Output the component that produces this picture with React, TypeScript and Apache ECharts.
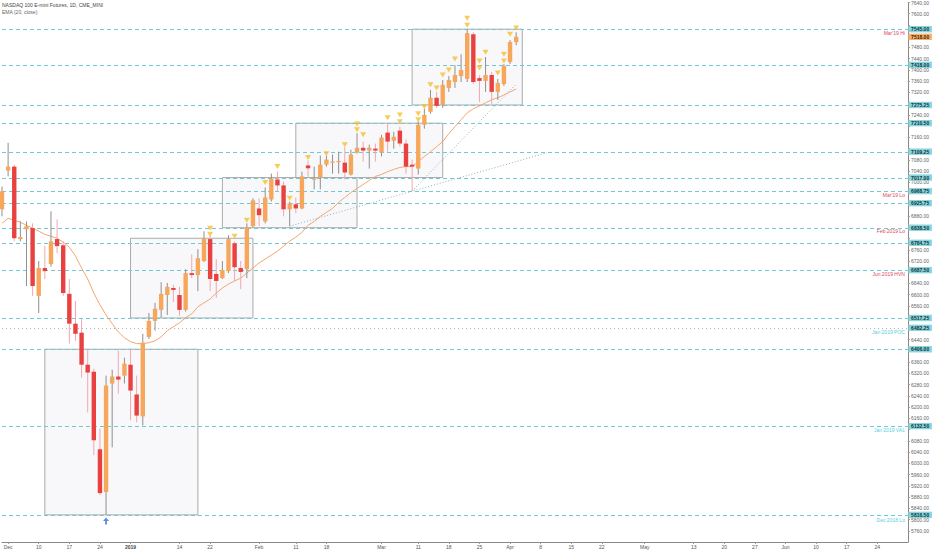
import React, { useEffect, useRef } from "react";
import * as echarts from "echarts";

// ---------- calendar ----------
const firstDay = "2018-11-30";
const lastDay = "2019-07-01";
const holidays = ["2018-12-25", "2019-01-01", "2019-01-21"];

function buildDays(): string[] {
  const out: string[] = [];
  const d = new Date(firstDay + "T00:00:00Z");
  const end = new Date(lastDay + "T00:00:00Z");
  while (d <= end) {
    const wd = d.getUTCDay();
    const s = d.toISOString().slice(0, 10);
    if (wd !== 0 && wd !== 6 && !holidays.includes(s)) out.push(s);
    d.setUTCDate(d.getUTCDate() + 1);
  }
  return out;
}
const categories = buildDays();

const tickLabels: [string, string][] = [
  ["2018-12-03", "Dec"], ["2018-12-10", "10"], ["2018-12-17", "17"], ["2018-12-24", "24"],
  ["2019-01-02", "2019"], ["2019-01-14", "14"], ["2019-01-22", "22"], ["2019-02-01", "Feb"],
  ["2019-02-11", "11"], ["2019-02-18", "18"], ["2019-03-01", "Mar"], ["2019-03-11", "11"],
  ["2019-03-18", "18"], ["2019-03-25", "25"], ["2019-04-01", "Apr"], ["2019-04-08", "8"],
  ["2019-04-15", "15"], ["2019-04-22", "22"], ["2019-05-01", "May"], ["2019-05-13", "13"],
  ["2019-05-20", "20"], ["2019-05-27", "27"], ["2019-06-03", "Jun"], ["2019-06-10", "10"],
  ["2019-06-17", "17"], ["2019-06-24", "24"],
];

// ---------- price data: [open, close, low, high] ----------
const candles: number[][] = [
  [6904, 6968, 6879, 6985], [7042, 7056, 7021, 7141], [7056, 6801, 6790, 7063], [6798, 6805, 6790, 6861],
  [6833, 6844, 6631, 6861], [6837, 6631, 6596, 6854], [6596, 6695, 6535, 6720], [6695, 6684, 6656, 6773],
  [6709, 6790, 6700, 6897], [6798, 6773, 6748, 6868], [6776, 6606, 6596, 6790], [6603, 6497, 6426, 6656],
  [6497, 6461, 6436, 6578], [6465, 6351, 6305, 6514], [6351, 6323, 6181, 6408], [6326, 6082, 6029, 6337],
  [6050, 5894, 5887, 6124], [5898, 6277, 5816.5, 6312], [6284, 6309, 6057, 6333], [6309, 6298, 6248, 6401],
  [6312, 6355, 6284, 6376], [6351, 6259, 6153, 6408], [6245, 6170, 6146, 6312], [6167, 6429, 6135, 6461],
  [6450, 6507, 6443, 6535], [6507, 6550, 6472, 6571], [6546, 6603, 6518, 6645], [6599, 6628, 6528, 6642],
  [6624, 6617, 6574, 6635], [6599, 6546, 6525, 6628], [6546, 6677, 6540, 6691], [6677, 6670, 6659, 6744],
  [6670, 6730, 6613, 6762], [6720, 6801, 6716, 6826], [6798, 6656, 6613, 6812], [6674, 6649, 6589, 6727],
  [6659, 6688, 6656, 6720], [6684, 6798, 6677, 6812], [6783, 6698, 6649, 6790], [6695, 6681, 6620, 6720],
  [6691, 6840, 6659, 6854], [6844, 6936, 6840, 6943], [6907, 6883, 6844, 6943], [6861, 6946, 6854, 6982],
  [6939, 7014, 6932, 7031], [7010, 6989, 6968, 7038], [6989, 6904, 6879, 7003], [6904, 6925, 6844, 6932],
  [6922, 6907, 6890, 6946], [6907, 7021, 6904, 7038], [7060, 7050, 7020, 7078], [7010, 7014, 6975, 7056],
  [7017, 7063, 6975, 7095], [7063, 7081, 7056, 7095], [7070, 7074, 7031, 7099], [7072, 7076, 7031, 7109],
  [7070, 7035, 7010, 7125], [7028, 7099, 7024, 7116], [7106, 7123, 7102, 7175], [7123, 7113, 7074, 7145],
  [7113, 7123, 7049, 7134], [7120, 7113, 7074, 7138], [7106, 7159, 7092, 7169], [7177, 7145, 7109, 7209],
  [7148, 7162, 7120, 7180], [7184, 7138, 7127, 7198], [7138, 7056, 7031, 7152], [7063, 7056, 6968.75, 7081],
  [7049, 7205, 7028, 7216], [7205, 7240, 7191, 7262], [7251, 7301, 7244, 7329], [7301, 7272, 7265, 7322],
  [7276, 7347, 7265, 7364], [7336, 7364, 7322, 7378], [7357, 7382, 7336, 7417], [7378, 7400, 7357, 7456],
  [7368, 7531, 7357, 7545], [7527, 7357, 7350, 7534], [7371, 7361, 7286, 7381], [7361, 7382, 7322, 7446],
  [7382, 7322, 7279, 7393], [7322, 7354, 7293, 7368], [7350, 7414, 7343, 7421], [7428, 7499, 7421, 7506],
  [7499, 7518, 7488, 7534],
];

const emaValues = [
  6854, 6872, 6865, 6858, 6847, 6837, 6826, 6815, 6808, 6801, 6787, 6769, 6738, 6695, 6656, 6606,
  6564, 6528, 6497, 6468, 6447, 6433, 6426, 6426, 6429, 6436, 6450, 6472, 6486, 6500, 6518, 6532,
  6557, 6571, 6585, 6606, 6624, 6638, 6649, 6659, 6677, 6695, 6713, 6727, 6741, 6755, 6773, 6791,
  6805, 6822, 6847, 6861, 6879, 6893, 6907, 6929, 6946, 6964, 6978, 6992, 7007, 7021, 7028, 7038,
  7046, 7053, 7056, 7056, 7074, 7092, 7109, 7127, 7145, 7173, 7198, 7223, 7247, 7262, 7272, 7283,
  7294, 7301, 7311, 7322, 7332,
];

// yellow markers above bars: [bar index, price]
const markerPoints: number[][] = [
  [34, 6837], [34, 6815], [38, 6808], [40, 6865], [43, 6999], [45, 7056], [47, 6943], [50, 7088],
  [53, 7102], [56, 7134], [58, 7208], [58, 7187], [59, 7169], [63, 7230], [65, 7240], [65, 7216],
  [68, 7244], [68, 7223], [69, 7269], [70, 7347], [71, 7336], [72, 7382], [73, 7400], [74, 7439],
  [76, 7584], [76, 7559], [78, 7432], [78, 7407], [79, 7463], [81, 7389], [82, 7456], [82, 7432],
  [83, 7527], [84, 7549],
];
const arrowPoint: number[][] = [[17, 5795]];

// rectangles: start bar, end bar, top price, bottom price
const boxStart = [7, 21, 36, 48, 67];
const boxEnd = [32, 41, 58, 72, 85];
const boxTop = [6406, 6801, 7017, 7210.5, 7545];
const boxBottom = [5816.5, 6517.25, 6838.5, 7017, 7275.25];

// dotted trend lines
const trendA: number[][] = [[47, 6844], [89, 7105]];
const trendB: number[][] = [[67, 6968.75], [84, 7350]];

// horizontal levels
const levelValues = [7545, 7418, 7275.25, 7210.5, 7109.25, 7017, 6968.75, 6925.75, 6838.5, 6784.75, 6687.5, 6517.25, 6482.25, 6406, 6132.5, 5816.5];
const levelDotted = [6482.25];
const lastPrice = 7518;
const noteValues = [7545, 6968.75, 6838.5, 6687.5, 6482.25, 6132.5, 5816.5];
const noteTexts = ["Mar'19 Hi", "Mar'19 Lo", "Feb 2019 Lo", "Jun 2019 HVN", "Jan 2019 POC", "Jan 2019 VAL", "Dec 2018 Lo"];
const noteRed = [true, true, true, true, false, false, false];

const FONT = "Liberation Sans, Arial, sans-serif";
const TEAL = "#6fcad5";
const UP = "#f6a75c";
const DOWN = "#e8413f";

export default function App() {
  const ref = useRef<HTMLDivElement>(null);
  useEffect(() => {
    if (!ref.current) return;
    const chart = echarts.init(ref.current, null, { renderer: "svg" });
    const tickMap: Record<string, string> = {};
    tickLabels.forEach(([d, t]) => (tickMap[d] = t));
    const showTick = (_i: number, v: string) => tickMap[v] !== undefined;
    const badgeValues = [...levelValues, lastPrice];

    const option: any = {
      animation: false,
      backgroundColor: "#ffffff",
      grid: { left: 2, right: 24, top: 0, bottom: 8, containLabel: false },
      xAxis: {
        type: "category",
        data: categories,
        boundaryGap: false,
        axisLine: { lineStyle: { color: "#888", width: 1 } },
        axisTick: { show: true, length: 2, interval: showTick, lineStyle: { color: "#999" } },
        axisLabel: {
          interval: showTick,
          formatter: (v: string) => (tickMap[v] === "2019" ? "{b|2019}" : tickMap[v] || ""),
          fontSize: 5,
          color: "#555",
          fontFamily: FONT,
          margin: 2,
          rich: { b: { fontSize: 5, fontWeight: "bold", color: "#444", fontFamily: FONT } },
        },
        splitLine: { show: false },
      },
      yAxis: {
        type: "value",
        position: "right",
        min: 5720,
        max: 7640,
        interval: 40,
        axisLine: { show: true, lineStyle: { color: "#888" } },
        axisTick: { show: true, length: 2, lineStyle: { color: "#999" } },
        axisLabel: {
          fontSize: 5,
          color: "#666",
          fontFamily: FONT,
          margin: 3,
          showMinLabel: false,
          formatter: (v: number) =>
            badgeValues.some((b) => Math.abs(b - v) < 16) ? "" : v.toFixed(2),
        },
        splitLine: { show: false },
      },
      graphic: [
        { type: "text", left: 2, top: 2, style: { text: "NASDAQ 100 E-mini Futures, 1D, CME_MINI", fontSize: 5, fontFamily: FONT, fill: "#444" } },
        { type: "text", left: 2, top: 9, style: { text: "EMA (20, close)", fontSize: 5, fontFamily: FONT, fill: "#666" } },
      ],
      series: [
        {
          type: "custom",
          name: "boxes",
          z: 1,
          silent: true,
          data: boxStart.map((s, k) => [s, boxEnd[k], boxTop[k], boxBottom[k]]),
          encode: { x: [0, 1], y: [2, 3] },
          renderItem: (_p: any, api: any) => {
            const a = api.coord([api.value(0), api.value(2)]);
            const b = api.coord([api.value(1), api.value(3)]);
            return {
              type: "rect",
              shape: { x: a[0], y: a[1], width: b[0] - a[0], height: b[1] - a[1] },
              style: { fill: "rgba(232,232,240,0.3)", stroke: "#aaaaaa", lineWidth: 1 },
            };
          },
        },
        {
          type: "custom",
          name: "levels",
          z: 2,
          silent: true,
          clip: false,
          data: levelValues.map((v) => [0, v]),
          encode: { x: 0, y: 1 },
          renderItem: (p: any, api: any) => {
            const v = api.value(1);
            const cs = p.coordSys;
            const y = Math.round(api.coord([0, v])[1]) + 0.5;
            const dotted = levelDotted.includes(v);
            return {
              type: "line",
              shape: { x1: cs.x, y1: y, x2: cs.x + cs.width, y2: y },
              style: {
                stroke: dotted ? "#b3b3b3" : TEAL,
                lineWidth: 1,
                lineDash: dotted ? [1, 3] : [4, 3],
              },
            };
          },
        },
        {
          type: "line",
          name: "trendA",
          z: 3,
          data: trendA,
          symbol: "none",
          silent: true,
          lineStyle: { color: "#8eb0bd", width: 1, type: [1, 2] },
        },
        {
          type: "line",
          name: "trendB",
          z: 3,
          data: trendB,
          symbol: "none",
          silent: true,
          lineStyle: { color: "#8eb0bd", width: 1, type: [1, 2] },
        },
        {
          type: "line",
          name: "EMA",
          z: 4,
          data: emaValues,
          symbol: "none",
          silent: true,
          lineStyle: { color: "#f5a56e", width: 1 },
        },
        {
          type: "custom",
          name: "candles",
          z: 5,
          silent: true,
          data: candles.map((c, i) => [i, c[0], c[1], c[2], c[3]]),
          encode: { x: 0, y: [1, 2, 3, 4] },
          renderItem: (_p: any, api: any) => {
            const i = api.value(0);
            const o = api.value(1);
            const c = api.value(2);
            const l = api.value(3);
            const h = api.value(4);
            const po = api.coord([i, o]);
            const pc = api.coord([i, c]);
            const pl = api.coord([i, l]);
            const ph = api.coord([i, h]);
            const up = c >= o;
            const w = 4.4;
            const top = Math.min(po[1], pc[1]);
            const hh = Math.max(1.2, Math.abs(po[1] - pc[1]));
            return {
              type: "group",
              children: [
                {
                  type: "line",
                  shape: { x1: po[0], y1: ph[1], x2: po[0], y2: pl[1] },
                  style: { stroke: up ? "#8f8f8f" : "#f2a7ae", lineWidth: 1 },
                },
                {
                  type: "rect",
                  shape: { x: po[0] - w / 2, y: top, width: w, height: hh },
                  style: { fill: up ? UP : DOWN },
                },
              ],
            };
          },
        },
        {
          type: "scatter",
          name: "markers",
          z: 6,
          silent: true,
          data: markerPoints,
          symbol: "triangle",
          symbolRotate: 180,
          symbolSize: [6, 5],
          itemStyle: { color: "#f3c12d" },
        },
        {
          type: "scatter",
          name: "arrow",
          z: 6,
          silent: true,
          data: arrowPoint,
          symbol: "path://M5,0 L10,5 L6.5,5 L6.5,10 L3.5,10 L3.5,5 L0,5 Z",
          symbolSize: [6, 7],
          itemStyle: { color: "#2f6fe0" },
        },
        {
          type: "custom",
          name: "notes",
          z: 7,
          silent: true,
          clip: false,
          data: noteValues.map((v, k) => [k, v]),
          encode: { x: 0, y: 1 },
          renderItem: (p: any, api: any) => {
            const k = api.value(0);
            const v = api.value(1);
            const cs = p.coordSys;
            const y = api.coord([0, v])[1];
            const dy = k === noteValues.length - 1 ? 2.5 : 1.2;
            return {
              type: "text",
              x: cs.x + cs.width - 3,
              y: y + dy,
              style: {
                text: noteTexts[k],
                fontSize: 5,
                fontFamily: FONT,
                fill: noteRed[k] ? "#e0465c" : "#52cfe0",
                align: "right",
                verticalAlign: "top",
              },
            };
          },
        },
        {
          type: "custom",
          name: "badges",
          z: 10,
          silent: true,
          clip: false,
          data: badgeValues.map((v) => [0, v]),
          encode: { x: 0, y: 1 },
          renderItem: (p: any, api: any) => {
            const v = api.value(1);
            const cs = p.coordSys;
            const right = cs.x + cs.width;
            const y = api.coord([0, v])[1];
            const last = v === lastPrice;
            return {
              type: "group",
              children: [
                {
                  type: "rect",
                  shape: { x: right + 0.5, y: y - 3.2, width: 23.5, height: 6.4 },
                  style: { fill: last ? "#f7b36e" : "#8ad6df" },
                },
                {
                  type: "text",
                  x: right + 12.2,
                  y: y + 0.2,
                  style: {
                    text: v.toFixed(2),
                    fontSize: 5,
                    fontFamily: FONT,
                    fontWeight: "bold",
                    fill: last ? "#3a2208" : "#12333a",
                    align: "center",
                    verticalAlign: "middle",
                  },
                },
              ],
            };
          },
        },
      ],
    };
    chart.setOption(option);
    return () => chart.dispose();
  }, []);
  return <div ref={ref} style={{ position: "fixed", left: 0, top: 0, width: 932, height: 550 }} />;
}
